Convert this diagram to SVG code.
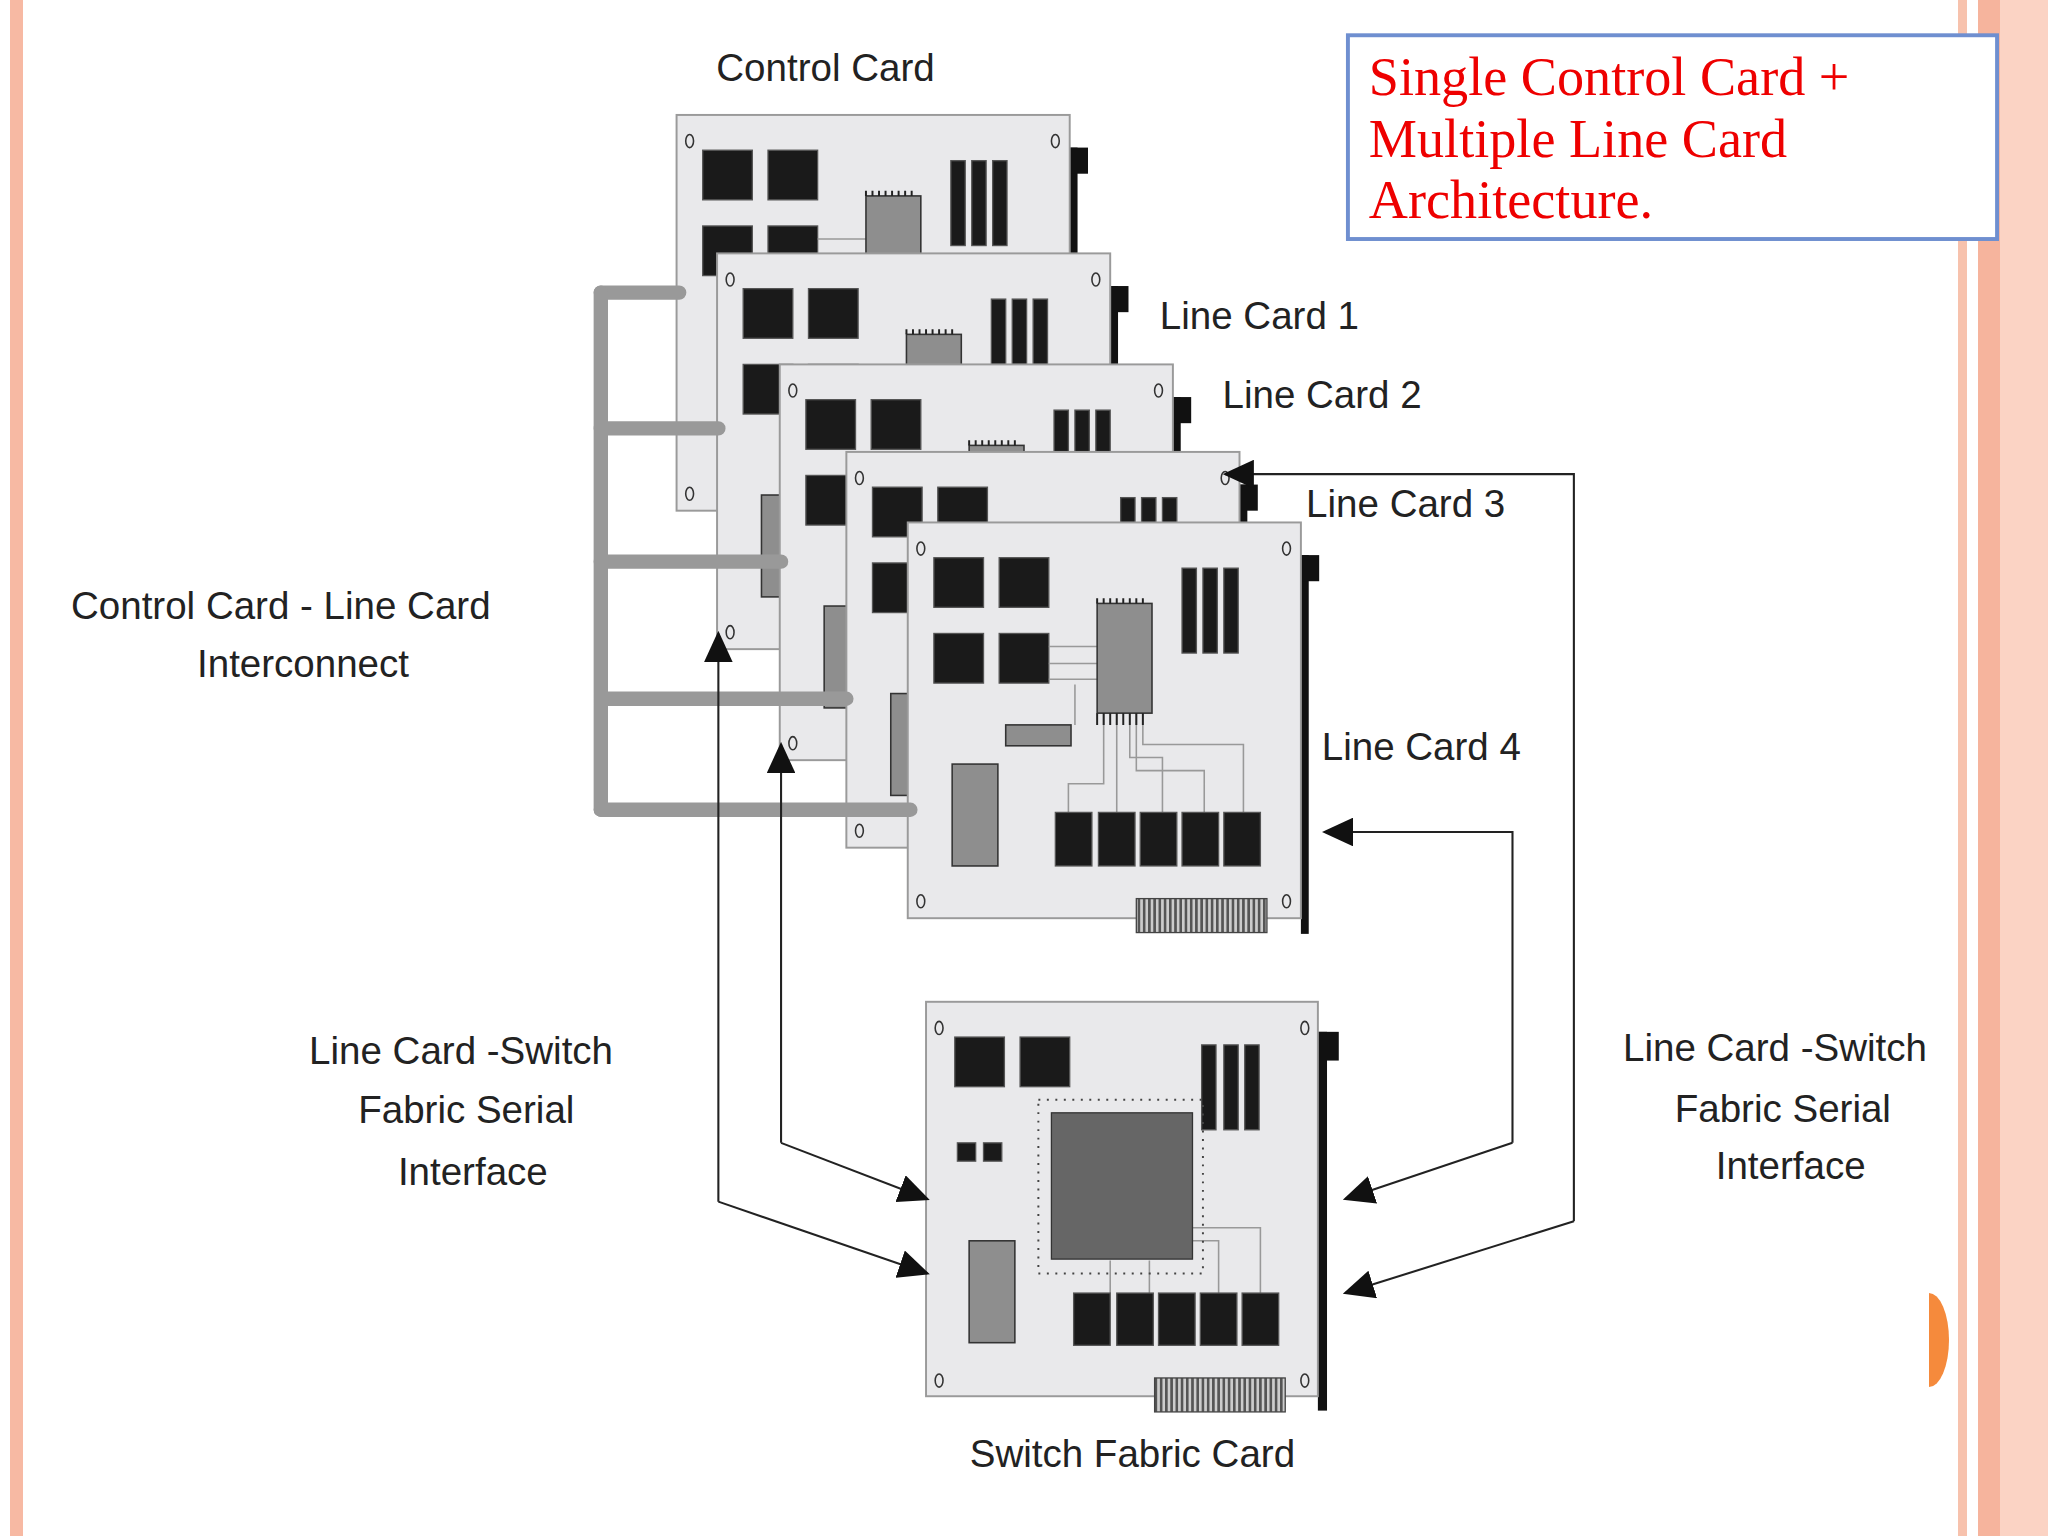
<svg xmlns="http://www.w3.org/2000/svg" xmlns:xlink="http://www.w3.org/1999/xlink" width="2048" height="1536" viewBox="0 0 2048 1536">
<style>
.card{fill:#e9e9eb;stroke:#9a9a9a;stroke-width:1.5}
.blk{fill:#1a1a1a;stroke:#555;stroke-width:1}
.gry{fill:#8e8e8e;stroke:#333;stroke-width:1.2}
.tr{fill:none;stroke:#999;stroke-width:1.2}
.lbl{font-family:"Liberation Sans",Arial,sans-serif;font-size:29.5px;fill:#222}
.ttl{font-family:"Liberation Serif","Times New Roman",serif;font-size:41.5px;fill:#e00}
.ic{fill:none;stroke:#999;stroke-width:11;stroke-linecap:round;stroke-linejoin:round}
.cn{fill:none;stroke:#222;stroke-width:1.6}
.hole{fill:none;stroke:#333;stroke-width:1.2}
</style>
<defs>
<marker id="ah" markerWidth="24" markerHeight="22" refX="22" refY="11" orient="auto" markerUnits="userSpaceOnUse" viewBox="0 0 24 22"><path d="M0,0 L24,11 L0,22 Z" fill="#111"/></marker>
<pattern id="comb" width="4" height="10" patternUnits="userSpaceOnUse"><rect width="4" height="10" fill="#ccc"/><rect width="2" height="10" fill="#555"/></pattern>
<g id="holes">
<ellipse class="hole" cx="10" cy="20" rx="3" ry="5"/><ellipse class="hole" cx="290" cy="20" rx="3" ry="5"/>
<ellipse class="hole" cx="10" cy="290" rx="3" ry="5"/><ellipse class="hole" cx="290" cy="290" rx="3" ry="5"/>
</g>
<g id="lc">
<rect x="301" y="25" width="6" height="290" fill="#111"/><rect x="301" y="25" width="14" height="20" fill="#111"/>
<rect class="card" x="0" y="0" width="301" height="303"/>
<use xlink:href="#holes"/>
<rect class="blk" x="20" y="27" width="38" height="38"/><rect class="blk" x="70" y="27" width="38" height="38"/>
<rect class="blk" x="20" y="85" width="38" height="38"/><rect class="blk" x="70" y="85" width="38" height="38"/>
<rect class="blk" x="210" y="35" width="11" height="65"/><rect class="blk" x="226" y="35" width="11" height="65"/><rect class="blk" x="242" y="35" width="11" height="65"/>
<path class="tr" d="M108,95 H145 M108,108 H145 M108,120 H145 M128,124 V155 M150,144 V200 H123 V222 M160,144 V222 M170,144 V180 H195 V222 M180,144 V170 H257 V222 M175,144 V190 H227 V222"/>
<rect class="gry" x="145" y="62" width="42" height="84"/>
<path d="M145,58 V62 M150,58 V62 M155,58 V62 M160,58 V62 M165,58 V62 M170,58 V62 M175,58 V62 M180,58 V62 M145,146 V155 M150,146 V155 M155,146 V155 M160,146 V155 M165,146 V155 M170,146 V155 M175,146 V155 M180,146 V155" stroke="#222" stroke-width="1.5"/>
<rect class="gry" x="75" y="155" width="50" height="16"/>
<rect class="gry" x="34" y="185" width="35" height="78"/>
<rect class="blk" x="113" y="222" width="28" height="41"/><rect class="blk" x="146" y="222" width="28" height="41"/><rect class="blk" x="178" y="222" width="28" height="41"/><rect class="blk" x="210" y="222" width="28" height="41"/><rect class="blk" x="242" y="222" width="28" height="41"/>
<rect x="175" y="288" width="100" height="26" fill="url(#comb)" stroke="#444"/>
</g>
</defs>
<rect width="2048" height="1536" fill="#fff"/>
<rect x="10" y="0" width="13" height="1536" fill="#f7b9a3"/>
<rect x="1958" y="0" width="9" height="1536" fill="#f7c2ad"/>
<rect x="1978" y="0" width="22" height="1536" fill="#f6b49d"/>
<rect x="2000" y="0" width="48" height="1536" fill="#fbd3c4"/>
<path d="M1929,1293 A20,47 0 0 1 1929,1387 Z" fill="#f58a3c"/>
<g transform="scale(1.30612)">
<g id="title">
<rect x="1032" y="27" width="497" height="156" fill="#fff" stroke="#6f8fd0" stroke-width="3"/>
<text class="ttl" x="1048" y="73">Single Control Card +</text>
<text class="ttl" x="1048" y="120">Multiple Line Card</text>
<text class="ttl" x="1048" y="167">Architecture.</text>
</g>
<g id="control-card"><use xlink:href="#lc" x="518" y="88"/></g>
<g id="line-card-1"><use xlink:href="#lc" x="549" y="194"/></g>
<g id="ic1"><path class="ic" d="M460,224 H520 M460,328 H550"/></g>
<g id="line-card-2"><use xlink:href="#lc" x="597" y="279"/></g>
<path class="ic" d="M460,430 H598"/>
<g id="line-card-3"><use xlink:href="#lc" x="648" y="346"/></g>
<path class="ic" d="M460,224 V620 M460,535 H648"/>
<g id="line-card-4"><use xlink:href="#lc" x="695" y="400"/></g>
<path class="ic" d="M460,620 H697"/>
<g id="switch-fabric-card">
<rect x="1009" y="790" width="7" height="290" fill="#111"/><rect x="1009" y="790" width="16" height="22" fill="#111"/>
<rect class="card" x="709" y="767" width="300" height="302"/>
<use xlink:href="#holes" x="709" y="767"/>
<rect class="blk" x="731" y="794" width="38" height="38"/><rect class="blk" x="781" y="794" width="38" height="38"/>
<rect class="blk" x="733" y="875" width="14" height="14"/><rect class="blk" x="753" y="875" width="14" height="14"/>
<rect class="blk" x="920" y="800" width="11" height="65"/><rect class="blk" x="937" y="800" width="11" height="65"/><rect class="blk" x="953" y="800" width="11" height="65"/>
<path class="tr" d="M905,940 H965 V990 M905,950 H933 V990 M880,965 V990 M850,965 V990"/>
<rect x="795" y="842" width="126" height="133" fill="none" stroke="#444" stroke-width="1.5" stroke-dasharray="1.5,5"/>
<rect x="805" y="852" width="108" height="112" fill="#666" stroke="#333"/>
<rect class="gry" x="742" y="950" width="35" height="78"/>
<rect class="blk" x="822" y="990" width="28" height="40"/><rect class="blk" x="855" y="990" width="28" height="40"/><rect class="blk" x="887" y="990" width="28" height="40"/><rect class="blk" x="919" y="990" width="28" height="40"/><rect class="blk" x="951" y="990" width="28" height="40"/>
<rect x="884" y="1055" width="100" height="26" fill="url(#comb)" stroke="#444"/>
</g>
<g id="connectors">
<path class="cn" d="M550,920 V485" marker-end="url(#ah)"/>
<path class="cn" d="M550,920 L710,975" marker-end="url(#ah)"/>
<path class="cn" d="M598,875 V570" marker-end="url(#ah)"/>
<path class="cn" d="M598,875 L710,918" marker-end="url(#ah)"/>
<path class="cn" d="M1205,935 V363 H938" marker-end="url(#ah)"/>
<path class="cn" d="M1205,935 L1030,990" marker-end="url(#ah)"/>
<path class="cn" d="M1158,875 V637 H1014" marker-end="url(#ah)"/>
<path class="cn" d="M1158,875 L1030,918" marker-end="url(#ah)"/>
</g>
<g id="labels">
<text class="lbl" x="632" y="62" text-anchor="middle">Control Card</text>
<text class="lbl" x="888" y="252">Line Card 1</text>
<text class="lbl" x="936" y="312">Line Card 2</text>
<text class="lbl" x="1000" y="396">Line Card 3</text>
<text class="lbl" x="1012" y="582">Line Card 4</text>
<text class="lbl" x="215" y="474" text-anchor="middle">Control Card - Line Card</text>
<text class="lbl" x="232" y="518" text-anchor="middle">Interconnect</text>
<text class="lbl" x="353" y="815" text-anchor="middle">Line Card -Switch</text>
<text class="lbl" x="357" y="860" text-anchor="middle">Fabric Serial</text>
<text class="lbl" x="362" y="907" text-anchor="middle">Interface</text>
<text class="lbl" x="1359" y="812" text-anchor="middle">Line Card -Switch</text>
<text class="lbl" x="1365" y="859" text-anchor="middle">Fabric Serial</text>
<text class="lbl" x="1371" y="903" text-anchor="middle">Interface</text>
<text class="lbl" x="867" y="1123" text-anchor="middle">Switch Fabric Card</text>
</g>
</g>
</svg>
